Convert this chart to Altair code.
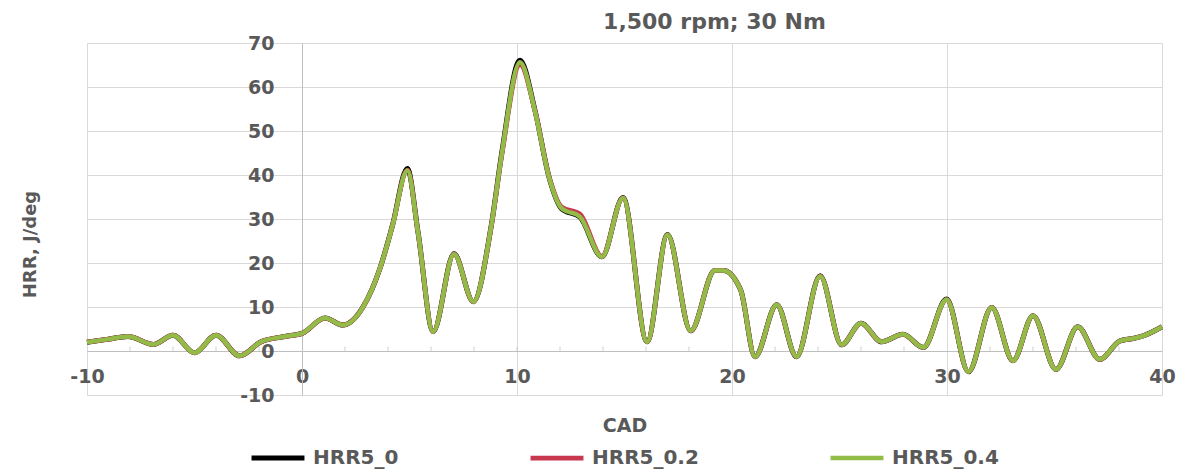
import altair as alt
import pandas as pd

# ---- data ----
cad = [-10, -9, -8.1, -6.9, -6.0, -5.0, -4.0, -2.9, -1.9, -0.8, 0, 1.07, 1.9, 2.85, 3.6,
       4.2, 4.9, 5.4, 6.1, 7.07, 7.97, 8.8, 9.3, 10.14, 10.84, 11.5, 12.08, 12.93, 13.95,
       14.93, 16.05, 17.0, 18.08, 19.2, 19.6, 20.4, 21.07, 22.08, 23.0, 24.1, 25.1, 26.0,
       26.96, 27.95, 28.9, 29.98, 31.0, 32.08, 33.07, 34.0, 35.07, 36.08, 37.1, 38.05,
       38.6, 39.05, 40.0]

hrr5_04 = [2.0, 2.7, 3.3, 1.5, 3.6, -0.4, 3.6, -1.1, 2.1, 3.3, 4.0, 7.5, 5.9, 10.1, 18.4,
           28.3, 41.0, 26.8, 4.4, 22.0, 11.2, 28.3, 45.0, 65.6, 54.4, 39.3, 32.4, 30.5, 21.4,
           34.8, 2.1, 26.4, 4.6, 18.3, 18.3, 13.9, -1.3, 10.5, -1.3, 17.0, 1.4, 6.3,
           2.1, 3.8, 0.8, 11.7, -4.7, 9.9, -2.2, 8.0, -4.2, 5.5, -1.9, 2.3,
           2.8, 3.3, 5.5]

hrr5_0 = [2.0, 2.7, 3.3, 1.5, 3.6, -0.4, 3.6, -1.1, 2.1, 3.3, 4.0, 7.5, 5.9, 10.1, 18.4,
          28.4, 41.5, 26.9, 4.4, 22.1, 11.2, 28.4, 45.3, 66.1, 54.6, 39.3, 32.3, 30.4, 21.4,
          34.9, 2.1, 26.5, 4.6, 18.3, 18.3, 13.9, -1.3, 10.5, -1.3, 17.1, 1.4, 6.3,
          2.1, 3.8, 0.8, 11.8, -4.7, 9.9, -2.2, 8.0, -4.2, 5.5, -1.9, 2.3,
          2.8, 3.3, 5.5]

hrr5_02 = [2.0, 2.7, 3.3, 1.5, 3.6, -0.4, 3.6, -1.1, 2.1, 3.3, 4.0, 7.5, 5.9, 10.1, 18.4,
           28.3, 41.1, 26.8, 4.4, 22.0, 11.2, 28.3, 44.8, 65.1, 54.5, 39.5, 32.7, 31.1, 21.5,
           34.8, 2.1, 26.4, 4.6, 18.3, 18.3, 13.9, -1.3, 10.5, -1.3, 17.0, 1.4, 6.3,
           2.1, 3.8, 0.8, 11.7, -4.7, 9.9, -2.2, 8.0, -4.2, 5.5, -1.9, 2.3,
           2.8, 3.3, 5.5]

series_names = ["HRR5_0", "HRR5_0.2", "HRR5_0.4"]
series_colors = ["#000000", "#C8374D", "#92BB48"]
series_widths = [5.0, 4.5, 3.8]

y_ticks = [-10, 0, 10, 20, 30, 40, 50, 60, 70]
x_ticks = [-10, 0, 10, 20, 30, 40]
x_minor = [-8, -6, -4, -2, 2, 4, 6, 8, 10, 12, 14, 16, 18, 22, 24, 26, 28, 32, 34, 36, 38]

title_text = "1,500 rpm; 30 Nm"
x_title = "CAD"
y_title = "HRR, J/deg"

# ---- build tables ----
rows = []
for name, vals in zip(series_names, [hrr5_0, hrr5_02, hrr5_04]):
    for c, v in zip(cad, vals):
        rows.append({"CAD": c, "HRR": v, "Series": name})
df = pd.DataFrame(rows)
minor_df = pd.DataFrame({"CAD": x_minor, "zero": [0] * len(x_minor)})

FONT = "DejaVu Sans"
GRAY = "#595959"
GRID = "#d9d9d9"
HYPHEN_LABEL = "datum.value < 0 ? '-' + abs(datum.value) : '' + datum.value"

x_scale = alt.Scale(domain=[-10, 40], nice=False, zero=False)
y_scale = alt.Scale(domain=[-10, 70], nice=False, zero=False)

lines = alt.Chart(df).mark_line(interpolate="monotone").encode(
    x=alt.X("CAD:Q", scale=x_scale,
            axis=alt.Axis(values=x_ticks, grid=True, gridColor=GRID, ticks=False,
                          domain=True, domainColor="#bfbfbf", offset=-44,
                          labelPadding=16, labelFont=FONT, labelFontSize=19,
                          labelFontWeight="bold", labelColor=GRAY, labelFlush=False,
                          labelExpr=HYPHEN_LABEL,
                          title=x_title, titleFont=FONT, titleFontSize=19,
                          titleFontWeight="bold", titleColor=GRAY,
                          titleX=537.5, titleY=74, titleBaseline="middle")),
    y=alt.Y("HRR:Q", scale=y_scale,
            axis=alt.Axis(values=y_ticks, grid=True, gridColor=GRID, ticks=False,
                          domain=True, domainColor="#bfbfbf", offset=-215,
                          labelPadding=28, labelFont=FONT, labelFontSize=19,
                          labelFontWeight="bold", labelColor=GRAY, labelFlush=False,
                          labelExpr=HYPHEN_LABEL,
                          title=y_title, titleFont=FONT, titleFontSize=18,
                          titleFontWeight="bold", titleColor=GRAY,
                          titleX=-272, titleY=201, titleAngle=270,
                          titleBaseline="middle", titleAlign="center")),
    color=alt.Color("Series:N", scale=alt.Scale(domain=series_names, range=series_colors),
                    legend=alt.Legend(title=None, orient="none", direction="horizontal",
                                      legendX=162, legendY=386, padding=0,
                                      symbolType="stroke", symbolSize=2800,
                                      symbolStrokeWidth=2.2, labelOffset=6,
                                      columnPadding=122,
                                      labelFont=FONT, labelFontSize=20,
                                      labelFontWeight="bold", labelColor=GRAY)),
    strokeWidth=alt.StrokeWidth("Series:N",
                                scale=alt.Scale(domain=series_names, range=series_widths),
                                legend=None),
)

minor = alt.Chart(minor_df).mark_tick(orient="vertical", size=5, thickness=1,
                                      color="#bfbfbf", yOffset=-2).encode(
    x=alt.X("CAD:Q", scale=x_scale),
    y=alt.Y("zero:Q", scale=y_scale),
)

chart = alt.layer(minor, lines).properties(
    width=1075, height=352,
    autosize=alt.AutoSizeParams(type="none"),
    padding={"left": 87, "top": 43, "right": 25, "bottom": 75},
    title=alt.Title(title_text, font=FONT, fontSize=22, fontWeight="bold", color=GRAY,
                    anchor="middle", dx=90, dy=12, offset=12),
    background="white",
).configure_view(stroke=None)

chart.save("out.html", embed_options={"renderer": "svg", "actions": False})
